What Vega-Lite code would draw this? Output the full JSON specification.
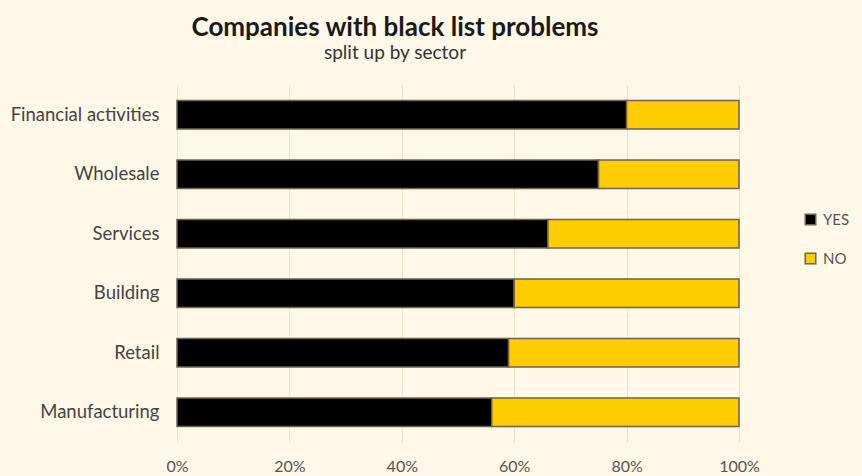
{
  "$schema": "https://vega.github.io/schema/vega-lite/v6.json",
  "width": 562,
  "height": 357,
  "autosize": {"type": "none"},
  "padding": {"left": 177, "top": 85, "right": 123, "bottom": 34},
  "background": "#fef8e8",
  "config": {
    "view": {"stroke": null},
    "font": "Lato"
  },
  "title": {
    "text": "Companies with black list problems",
    "subtitle": "split up by sector",
    "anchor": "middle",
    "dx": -63,
    "offset": 22,
    "fontSize": 26,
    "fontWeight": "bold",
    "color": "#1a1a1a",
    "subtitleFontSize": 19,
    "subtitleColor": "#333333",
    "subtitlePadding": 3,
    "font": "Lato",
    "subtitleFont": "Lato"
  },
  "data": {
    "values": [
      {"sector": "Financial activities", "answer": "YES", "share": 80},
      {"sector": "Financial activities", "answer": "NO", "share": 20},
      {"sector": "Wholesale", "answer": "YES", "share": 75},
      {"sector": "Wholesale", "answer": "NO", "share": 25},
      {"sector": "Services", "answer": "YES", "share": 66},
      {"sector": "Services", "answer": "NO", "share": 34},
      {"sector": "Building", "answer": "YES", "share": 60},
      {"sector": "Building", "answer": "NO", "share": 40},
      {"sector": "Retail", "answer": "YES", "share": 59},
      {"sector": "Retail", "answer": "NO", "share": 41},
      {"sector": "Manufacturing", "answer": "YES", "share": 56},
      {"sector": "Manufacturing", "answer": "NO", "share": 44}
    ]
  },
  "mark": {"type": "bar", "stroke": "#6e6250", "strokeWidth": 1.5},
  "encoding": {
    "y": {
      "field": "sector",
      "type": "nominal",
      "sort": ["Financial activities", "Wholesale", "Services", "Building", "Retail", "Manufacturing"],
      "scale": {"paddingInner": 0.52, "paddingOuter": 0.26},
      "axis": {
        "title": null,
        "domain": false,
        "ticks": false,
        "grid": false,
        "labelPadding": 18,
        "labelFontSize": 18.5,
        "labelColor": "#444444",
        "labelFont": "Lato"
      }
    },
    "x": {
      "field": "share",
      "type": "quantitative",
      "stack": "normalize",
      "scale": {"domain": [0, 1]},
      "axis": {
        "title": null,
        "format": ".0%",
        "values": [0, 0.2, 0.4, 0.6, 0.8, 1],
        "domain": false,
        "ticks": false,
        "grid": true,
        "gridColor": "#ece4cc",
        "gridWidth": 1,
        "labelFlush": false,
        "labelPadding": 16,
        "labelFontSize": 16,
        "labelColor": "#555555",
        "labelFont": "Lato"
      }
    },
    "color": {
      "field": "answer",
      "type": "nominal",
      "scale": {"domain": ["YES", "NO"], "range": ["#000000", "#ffcc00"]},
      "legend": {
        "title": null,
        "orient": "none",
        "legendX": 626,
        "legendY": 127,
        "symbolType": "square",
        "symbolSize": 110,
        "symbolStrokeColor": "#6e6250",
        "symbolStrokeWidth": 1.5,
        "rowPadding": 22,
        "labelFontSize": 15,
        "labelColor": "#555555",
        "labelFont": "Lato",
        "labelOffset": 5
      }
    },
    "order": {"field": "answer", "sort": "descending"}
  }
}
